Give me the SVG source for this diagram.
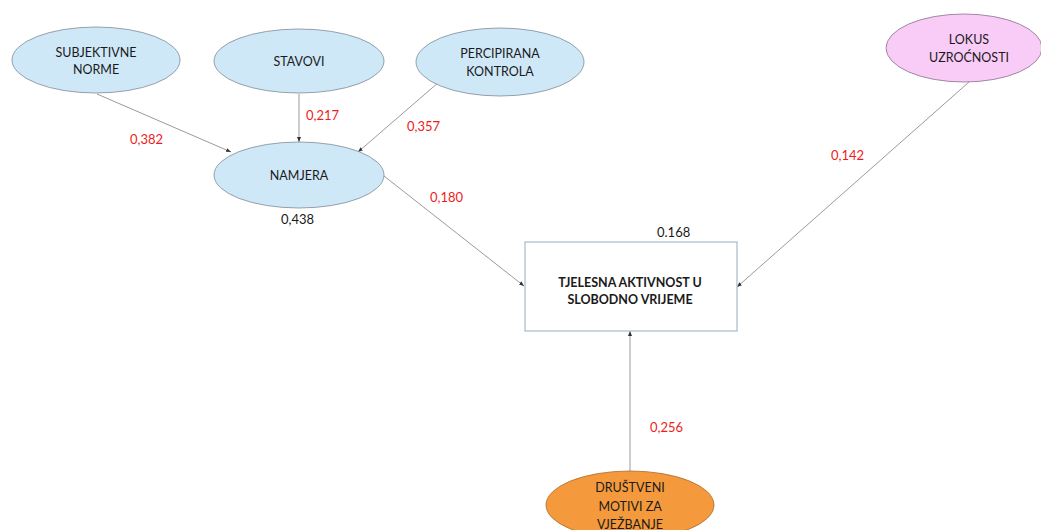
<svg xmlns="http://www.w3.org/2000/svg" width="1041" height="530" viewBox="0 0 1041 530">
  <style>
    .node text { font-family: Lato, "Open Sans", sans-serif; font-size: 12.5px; fill: #1a1a1a; text-anchor: middle; }
    .blue { fill: #cfe8f8; stroke: #7f8a94; stroke-width: 0.8; }
    .pink { fill: #f9ccf7; stroke: #8a6f8a; stroke-width: 0.8; }
    .orange { fill: #f49a3c; stroke: #a86a2e; stroke-width: 0.8; }
    .box { fill: #ffffff; stroke: #a8bac9; stroke-width: 1.2; }
    .box-text { font-weight: bold; }
    .edge { stroke: #808080; stroke-width: 0.8; fill: none; marker-end: url(#head); }
    .coef { font-family: Lato, "Open Sans", sans-serif; font-size: 13px; fill: #ee1c1c; }
    .r2 { font-family: Lato, "Open Sans", sans-serif; font-size: 13px; fill: #1a1a1a; }
  </style>
  <defs>
    <marker id="head" viewBox="0 0 10 10" refX="10" refY="5" markerWidth="5" markerHeight="5" orient="auto" markerUnits="userSpaceOnUse">
      <path d="M0,1 L10,5 L0,9 z" fill="#333"/>
    </marker>
  </defs>
  <rect width="1041" height="530" fill="#ffffff"/>

  <g id="connectors">
    <line class="edge" x1="97" y1="94" x2="231" y2="152"/>
    <line class="edge" x1="299" y1="94" x2="299" y2="142"/>
    <line class="edge" x1="439" y1="82" x2="358" y2="152"/>
    <line class="edge" x1="384" y1="176" x2="524" y2="286"/>
    <line class="edge" x1="969" y1="82" x2="737" y2="287"/>
    <line class="edge" x1="630" y1="471" x2="630" y2="331"/>
  </g>

  <g id="subjektivne-norme" class="node">
    <ellipse class="blue" cx="96" cy="60" rx="84" ry="33"/>
    <text x="96" y="57">SUBJEKTIVNE</text>
    <text x="96" y="74">NORME</text>
  </g>
  <g id="stavovi" class="node">
    <ellipse class="blue" cx="299" cy="61" rx="85" ry="32"/>
    <text x="299" y="66">STAVOVI</text>
  </g>
  <g id="percipirana-kontrola" class="node">
    <ellipse class="blue" cx="500" cy="62" rx="84" ry="34"/>
    <text x="500" y="58">PERCIPIRANA</text>
    <text x="500" y="76">KONTROLA</text>
  </g>
  <g id="namjera" class="node">
    <ellipse class="blue" cx="299" cy="175" rx="85" ry="33"/>
    <text x="299" y="180">NAMJERA</text>
  </g>
  <g id="lokus-uzrocnosti" class="node">
    <ellipse class="pink" cx="964" cy="48" rx="78" ry="34"/>
    <text x="969" y="44">LOKUS</text>
    <text x="969" y="62">UZROĆNOSTI</text>
  </g>
  <g id="tjelesna-aktivnost" class="node">
    <rect class="box" x="525" y="242" width="212" height="89"/>
    <text class="box-text" x="630" y="287">TJELESNA AKTIVNOST U</text>
    <text class="box-text" x="630" y="304">SLOBODNO VRIJEME</text>
  </g>
  <g id="drustveni-motivi" class="node">
    <ellipse class="orange" cx="630" cy="505" rx="84" ry="34"/>
    <text x="630" y="492">DRUŠTVENI</text>
    <text x="630" y="511">MOTIVI ZA</text>
    <text x="630" y="529">VJEŽBANJE</text>
  </g>

  <g id="labels">
    <text class="coef" x="130" y="144">0,382</text>
    <text class="coef" x="306" y="120">0,217</text>
    <text class="coef" x="407" y="131">0,357</text>
    <text class="coef" x="430" y="202">0,180</text>
    <text class="coef" x="831" y="160">0,142</text>
    <text class="coef" x="650" y="432">0,256</text>
    <text class="r2" x="281" y="224">0,438</text>
    <text class="r2" x="657" y="237">0.168</text>
  </g>
</svg>
